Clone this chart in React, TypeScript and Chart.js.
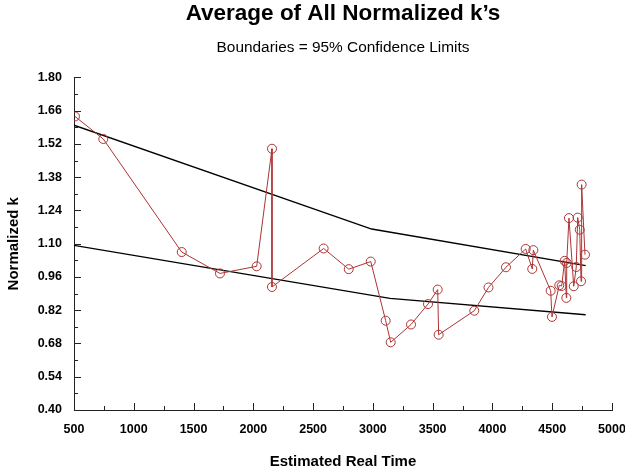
import React, { useEffect, useRef } from "react";
import { Chart, registerables } from "chart.js";

Chart.register(...registerables);

// ---- Data ----
const timeValues = [
  508, 745, 1401, 1721, 2028, 2156, 2156, 2588, 2798, 2982, 3107, 3149, 3319,
  3461, 3542, 3550, 3848, 3967, 4113, 4278, 4333, 4342, 4487, 4498, 4559,
  4579, 4604, 4618, 4621, 4640, 4680, 4701, 4713, 4730, 4741, 4746, 4774,
];
const normalizedK = [
  1.636, 1.541, 1.065, 0.975, 1.005, 1.5, 0.918, 1.08, 0.993, 1.025, 0.776,
  0.685, 0.76, 0.846, 0.907, 0.717, 0.818, 0.916, 1.001, 1.078, 0.994, 1.073,
  0.902, 0.792, 0.925, 0.922, 1.028, 0.872, 1.019, 1.208, 0.921, 1.002, 1.21,
  1.159, 0.942, 1.349, 1.054,
];
const upperTime = [500, 2990, 4780];
const upperLimit = [1.599, 1.162, 1.008];
const lowerTime = [500, 3143, 4780];
const lowerLimit = [1.093, 0.87, 0.801];

const yTickMin = 0.4;
const yTickMax = 1.8;
const yTickStep = 0.14;
const xTickMin = 500;
const xTickMax = 5000;
const xTickStep = 500;

const titleText = "Average of All Normalized k\u2019s";
const subtitleText = "Boundaries = 95% Confidence Limits";
const xAxisTitle = "Estimated Real Time";
const yAxisTitle = "Normalized k";

const FONT = "Arial, 'Liberation Sans', Helvetica, sans-serif";
const RED = "#ad3434";
const AXIS = "#222222";

const toPoints = (xs: number[], ys: number[]) =>
  xs.map((x, i) => ({ x, y: ys[i] }));

const innerTicks = {
  id: "innerTicks",
  afterDatasetsDraw(chart: any) {
    const ctx = chart.ctx;
    const xs = chart.scales.x;
    const ys = chart.scales.y;
    const area = chart.chartArea;
    ctx.save();
    ctx.strokeStyle = AXIS;
    ctx.lineWidth = 1;
    const xv = xs.ticks.map((t: any) => t.value);
    const yv = ys.ticks.map((t: any) => t.value);
    const xLine = (v: number, len: number) => {
      const p = Math.round(xs.getPixelForValue(v)) + 0.5;
      ctx.beginPath();
      ctx.moveTo(p, area.bottom);
      ctx.lineTo(p, area.bottom - len);
      ctx.stroke();
    };
    const yLine = (v: number, len: number) => {
      const p = Math.round(ys.getPixelForValue(v)) + 0.5;
      ctx.beginPath();
      ctx.moveTo(area.left, p);
      ctx.lineTo(area.left + len, p);
      ctx.stroke();
    };
    xv.forEach((v: number, i: number) => {
      xLine(v, 7);
      if (i < xv.length - 1) xLine((v + xv[i + 1]) / 2, 4);
    });
    yv.forEach((v: number, i: number) => {
      yLine(v, 7);
      if (i < yv.length - 1) yLine((v + yv[i + 1]) / 2, 4);
    });
    ctx.restore();
  },
};

export default function App() {
  const ref = useRef<HTMLCanvasElement | null>(null);

  useEffect(() => {
    if (!ref.current) return;
    const chart = new Chart(ref.current, {
      type: "line",
      data: {
        datasets: [
          {
            label: "Normalized k",
            data: toPoints(timeValues, normalizedK),
            borderColor: RED,
            borderWidth: 1,
            pointStyle: "circle",
            pointRadius: 4.5,
            pointBorderWidth: 1,
            pointBorderColor: RED,
            pointBackgroundColor: "rgba(0,0,0,0)",
            tension: 0,
          },
          {
            label: "Upper limit",
            data: toPoints(upperTime, upperLimit),
            borderColor: "#000000",
            borderWidth: 1.3,
            pointRadius: 0,
            tension: 0,
          },
          {
            label: "Lower limit",
            data: toPoints(lowerTime, lowerLimit),
            borderColor: "#000000",
            borderWidth: 1.3,
            pointRadius: 0,
            tension: 0,
          },
        ],
      },
      options: {
        responsive: false,
        animation: false,
        layout: { padding: { left: 0, right: 0, top: 0, bottom: 0 } },
        plugins: {
          legend: { display: false },
          tooltip: { enabled: false },
          title: {
            display: true,
            text: titleText,
            fullSize: false,
            color: "#000",
            font: { family: FONT, size: 22.5, weight: "bold" },
            padding: { top: 0, bottom: 11.5 },
          },
          subtitle: {
            display: true,
            text: subtitleText,
            fullSize: false,
            color: "#000",
            font: { family: FONT, size: 15.4, weight: "normal" },
            padding: { top: 0, bottom: 20.5 },
          },
        },
        scales: {
          x: {
            type: "linear",
            min: xTickMin,
            max: xTickMax,
            afterFit: (s: any) => {
              s.height = 65;
              s.paddingRight = 13;
              s.paddingLeft = 0;
            },
            ticks: {
              stepSize: xTickStep,
              color: "#000",
              padding: 12,
              maxRotation: 0,
              font: { family: FONT, size: 12.5, weight: "bold" },
              callback: (v: any) => String(Math.round(Number(v))),
            },
            grid: { drawOnChartArea: false, drawTicks: false },
            border: { display: true, color: AXIS, width: 1 },
            title: {
              display: true,
              text: xAxisTitle,
              color: "#000",
              font: { family: FONT, size: 15, weight: "bold" },
              padding: { top: 0, bottom: 4 },
            },
          },
          y: {
            type: "linear",
            min: yTickMin,
            max: yTickMax,
            afterFit: (s: any) => {
              s.width = 74;
            },
            ticks: {
              stepSize: yTickStep,
              color: "#000",
              padding: 12,
              font: { family: FONT, size: 12.5, weight: "bold" },
              callback: (v: any) => Number(v).toFixed(2),
            },
            grid: { drawOnChartArea: false, drawTicks: false },
            border: { display: true, color: AXIS, width: 1 },
            title: {
              display: true,
              text: yAxisTitle,
              color: "#000",
              font: { family: FONT, size: 15, weight: "bold" },
              padding: { top: 5, bottom: 0 },
            },
          },
        },
      },
      plugins: [innerTicks],
    });
    return () => chart.destroy();
  }, []);

  return (
    <div
      style={{
        position: "fixed",
        left: 0,
        top: 0,
        width: 625,
        height: 475,
        background: "#fff",
      }}
    >
      <canvas ref={ref} width={625} height={475} style={{ display: "block" }} />
    </div>
  );
}
